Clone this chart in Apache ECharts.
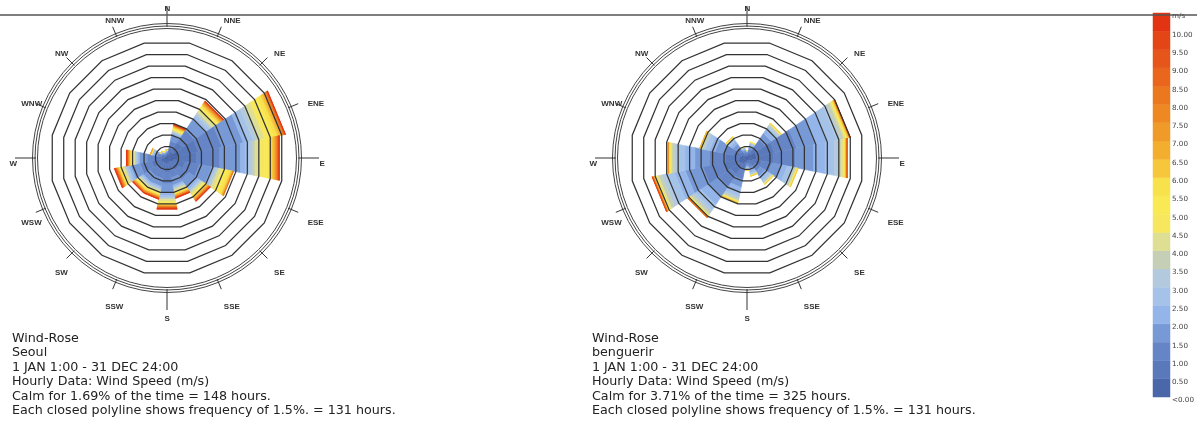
<!DOCTYPE html>
<html><head><meta charset="utf-8">
<script src="https://cdn.jsdelivr.net/npm/echarts@6/dist/echarts.min.js"></script>
<style>html,body{margin:0;padding:0;background:#fff;}#c{width:1197px;height:427px;}</style>
</head><body><div id="c"></div>
<script>
// ---------- data ----------
const directions = ['N','NNE','NE','ENE','E','ESE','SE','SSE','S','SSW','SW','WSW','W','WNW','NW','NNW'];
const speedBinLabels = ['<0.00','0.50','1.00','1.50','2.00','2.50','3.00','3.50','4.00','4.50','5.00',
  '5.50','6.00','6.50','7.00','7.50','8.00','8.50','9.00','9.50','10.00','m/s'];
const binColors = ['#4a67a9','#5a79bb','#6585c6','#7799d5','#94b5ea','#a5c2e8','#b3cade','#c5cfb5',
  '#dedf93','#f7e75e','#f9ea55','#f8e24c','#f6c63b','#f3ae30','#f09b29','#ed8823','#eb771f',
  '#e9661c','#e65519','#e44516','#e23412'];
const ringLevels = [1.5, 3, 4.5, 6, 7.5, 9, 10.5, 12, 13.5, 15]; // % frequency per closed polyline
// frequency (%) per direction (rows N..NNW) per speed bin (columns 0-0.5 ... >10 m/s)
const seoulFreq = [
  [0.25,0.25,0.2,0.15,0.08,0.05,0.03,0.02,0.02,0.02,0.01,0.01,0.01,0,0,0,0,0,0,0,0],
  [0.5,0.8,0.95,0.85,0.17,0.13,0.08,0.07,0.15,0.1,0.1,0.1,0.08,0.07,0.06,0.05,0.04,0.04,0.03,0.02,0.01],
  [0.9,1.5,1.85,1.65,0.4,0.35,0.2,0.2,0.4,0.25,0.2,0.2,0.15,0.12,0.1,0.08,0.07,0.06,0.05,0.04,0.03],
  [1.5,2.6,3.1,2.8,0.7,0.6,0.5,0.4,0.6,0.6,0.6,0.5,0.25,0.2,0.15,0.12,0.1,0.08,0.04,0.03,0.03],
  [1.4,2.5,3.0,2.7,0.65,0.55,0.4,0.3,0.7,0.55,0.5,0.45,0.25,0.18,0.14,0.1,0.1,0.08,0.06,0.05,0.04],
  [0.9,1.5,1.85,1.65,0.3,0.2,0.2,0.2,0.4,0.4,0.4,0.35,0.15,0.1,0.05,0.03,0.02,0,0,0,0],
  [0.7,1.2,1.45,1.25,0.3,0.25,0.15,0.1,0.25,0.17,0.15,0.13,0.12,0.1,0.08,0.07,0.06,0.05,0.05,0.04,0.03],
  [0.55,0.95,1.1,1.0,0.2,0.15,0.15,0.1,0.25,0.13,0.12,0.1,0.1,0.08,0.07,0.06,0.05,0.05,0.04,0.03,0.02],
  [0.7,1.2,1.45,1.25,0.3,0.25,0.15,0.1,0.25,0.17,0.15,0.13,0.1,0.08,0.07,0.06,0.06,0.06,0.06,0.05,0.06],
  [0.65,0.95,1.1,1.0,0.2,0.15,0.15,0.1,0.25,0.13,0.12,0.1,0.1,0.08,0.07,0.06,0.05,0.05,0.04,0.03,0.02],
  [0.65,0.95,1.1,1.0,0.2,0.15,0.15,0.1,0.25,0.13,0.12,0.1,0.1,0.08,0.07,0.06,0.05,0.04,0.04,0.03,0.03],
  [0.8,1.25,1.5,1.25,0.3,0.25,0.15,0.1,0.25,0.17,0.15,0.13,0.1,0.08,0.07,0.07,0.06,0.06,0.06,0.05,0.05],
  [0.55,0.95,1.1,1.0,0.2,0.15,0.15,0.1,0.25,0.13,0.12,0.1,0.1,0.08,0.07,0.06,0.05,0.05,0.04,0.03,0.02],
  [0.3,0.45,0.5,0.4,0.15,0.1,0.07,0.05,0.06,0.04,0.03,0.02,0.01,0.01,0.01,0,0,0,0,0,0],
  [0.25,0.25,0.2,0.15,0.08,0.05,0.03,0.02,0.02,0.02,0.01,0.01,0.01,0,0,0,0,0,0,0,0],
  [0.2,0.2,0.16,0.12,0.07,0.05,0.03,0.02,0.02,0.01,0.01,0.01,0,0,0,0,0,0,0,0,0]
];
const benguerirFreq = [
  [0.2,0.25,0.2,0.15,0.08,0.05,0.03,0.02,0.01,0.01,0,0,0,0,0,0,0,0,0,0,0],
  [0.3,0.45,0.45,0.35,0.22,0.15,0.07,0.05,0.03,0.02,0.01,0,0,0,0,0,0,0,0,0,0],
  [0.6,1.0,1.2,1.0,0.6,0.45,0.2,0.15,0.08,0.05,0.03,0.02,0.02,0,0,0,0,0,0,0,0],
  [1.2,2.4,2.9,2.5,1.5,1.3,0.5,0.4,0.2,0.15,0.1,0.05,0.1,0.06,0.05,0.04,0.02,0.01,0.01,0.01,0],
  [1.2,2.3,2.8,2.4,1.5,1.2,0.5,0.4,0.25,0.15,0.1,0.05,0.08,0.06,0.04,0.03,0.02,0.01,0.01,0,0],
  [0.7,1.2,1.4,1.2,0.8,0.6,0.3,0.2,0.12,0.08,0.05,0.03,0.02,0,0,0,0,0,0,0,0],
  [0.45,0.75,0.85,0.75,0.45,0.35,0.18,0.12,0.08,0.05,0.04,0.02,0.01,0,0,0,0,0,0,0,0],
  [0.3,0.45,0.5,0.4,0.25,0.2,0.1,0.07,0.05,0.04,0.02,0.01,0.01,0,0,0,0,0,0,0,0],
  [0.25,0.3,0.3,0.25,0.15,0.12,0.07,0.05,0.04,0.03,0.02,0.01,0.01,0,0,0,0,0,0,0,0],
  [0.6,1.0,1.2,1.05,0.7,0.55,0.25,0.2,0.12,0.08,0.06,0.04,0.03,0.02,0,0,0,0,0,0,0],
  [0.9,1.6,1.9,1.7,1.1,0.85,0.35,0.3,0.15,0.1,0.07,0.05,0.04,0.03,0.02,0.02,0.01,0.01,0,0,0],
  [1.1,2.1,2.6,2.3,1.4,1.2,0.5,0.4,0.2,0.15,0.1,0.07,0.06,0.05,0.04,0.04,0.03,0.03,0.02,0.01,0],
  [1.0,1.8,2.1,1.9,1.3,1.0,0.4,0.3,0.18,0.12,0.08,0.05,0.03,0.02,0.01,0.01,0,0,0,0,0],
  [0.7,1.1,1.3,1.1,0.75,0.55,0.25,0.18,0.1,0.07,0.05,0.03,0.01,0.01,0,0,0,0,0,0,0],
  [0.4,0.6,0.65,0.55,0.4,0.3,0.14,0.1,0.06,0.04,0.03,0.02,0.01,0,0,0,0,0,0,0,0],
  [0.22,0.3,0.3,0.25,0.15,0.12,0.06,0.04,0.03,0.02,0.01,0,0,0,0,0,0,0,0,0,0]
];
const seoulText = ['Wind-Rose','Seoul','1 JAN 1:00 - 31 DEC 24:00','Hourly Data: Wind Speed (m/s)',
  'Calm for 1.69% of the time = 148 hours.','Each closed polyline shows frequency of 1.5%. = 131 hours.'];
const benguerirText = ['Wind-Rose','benguerir','1 JAN 1:00 - 31 DEC 24:00','Hourly Data: Wind Speed (m/s)',
  'Calm for 3.71% of the time = 325 hours.','Each closed polyline shows frequency of 1.5%. = 131 hours.'];

// ---------- layout constants ----------
const PX_PER_PCT = 7.8;
const OUTER_PX = 134.5;
const RMAX = OUTER_PX / PX_PER_PCT;
const FRAME_R = [129.5, 132, 134.5];
const px = v => v / PX_PER_PCT;
const SECTOR = 360 / directions.length;

function buildBars(freq) {
  const out = [];
  freq.forEach((row, d) => {
    let acc = 0;
    row.forEach((v, b) => { if (v > 0) out.push([d, acc, acc + v, b]); acc += v; });
  });
  return out;
}
function renderBar(params, api) {
  const d = api.value(0), r0 = api.value(1), r1 = api.value(2), b = api.value(3);
  const a0 = d * SECTOR - SECTOR / 2, a1 = d * SECTOR + SECTOR / 2;
  const pts = [api.coord([r0, a0]), api.coord([r1, a0]), api.coord([r1, a1]), api.coord([r0, a1])];
  return { type: 'polygon', shape: { points: pts },
    style: { fill: binColors[b], stroke: binColors[b], lineWidth: 0.6 } };
}
function renderRing(params, api) {
  const r = api.value(0); const pts = [];
  for (let k = 0; k < directions.length; k++) pts.push(api.coord([r, SECTOR / 2 + SECTOR * k]));
  return { type: 'polygon', shape: { points: pts },
    style: { fill: null, stroke: '#333', lineWidth: 1.25 } };
}
function renderFrame(params, api) {
  const i = api.value(0); const a = i * SECTOR; const card = i % 4 === 0;
  const children = [];
  const p0 = api.coord([px(131), a]), p1 = api.coord([px(card ? 152 : 142), a]);
  children.push({ type: 'line', shape: { x1: p0[0], y1: p0[1], x2: p1[0], y2: p1[1] },
    style: { stroke: '#333', lineWidth: 1 } });
  const pl = api.coord([px(155), a]);
  children.push({ type: 'text', x: pl[0] - 2.5, y: pl[1] + 1.5,
    style: { text: directions[i], font: 'bold 8px "Liberation Sans", Arial, sans-serif',
      fill: '#333', align: 'left', verticalAlign: 'top' } });
  if (i === 0) {
    const c = api.coord([0, 0]);
    FRAME_R.forEach(r => children.push({ type: 'circle', shape: { cx: c[0], cy: c[1], r: r },
      style: { fill: null, stroke: '#444', lineWidth: 1 } }));
  }
  return { type: 'group', children };
}
function renderLegend(params, api) {
  const i = api.value(0);
  const p0 = api.coord([0, i]), p1 = api.coord([1, i + 1]);
  return { type: 'rect', shape: { x: p0[0], y: p1[1], width: p1[0] - p0[0], height: p0[1] - p1[1] },
    style: { fill: binColors[i], stroke: binColors[i], lineWidth: 0.5 } };
}

const roses = [seoulFreq, benguerirFreq];
const centers = [[167, 158], [747, 158]];
const series = [];
roses.forEach((freq, idx) => {
  series.push({ type: 'custom', coordinateSystem: 'polar', polarIndex: idx, z: 2,
    renderItem: renderBar, data: buildBars(freq), silent: true });
  series.push({ type: 'custom', coordinateSystem: 'polar', polarIndex: idx, z: 3,
    renderItem: renderRing, data: ringLevels.map(v => [v, 0]), silent: true });
  series.push({ type: 'custom', coordinateSystem: 'polar', polarIndex: idx, z: 4,
    renderItem: renderFrame, data: directions.map((n, i) => [i, 0]), silent: true });
});
series.push({ type: 'custom', coordinateSystem: 'cartesian2d', xAxisIndex: 0, yAxisIndex: 0,
  renderItem: renderLegend, data: binColors.map((c, i) => [i, i]), silent: true, encode: { x: 0, y: 1 } });

const textBlock = (lines, left) => ({ type: 'text', left: left, top: 331,
  style: { text: lines.join('\n'), font: '12.7px "DejaVu Sans", Verdana, sans-serif', lineHeight: 14.5, fill: '#222' } });

const option = {
  animation: false,
  backgroundColor: '#fff',
  polar: centers.map(c => ({ center: c, radius: OUTER_PX })),
  angleAxis: centers.map((c, i) => ({ polarIndex: i, type: 'value', min: 0, max: 360,
    startAngle: 90, clockwise: true, show: false })),
  radiusAxis: centers.map((c, i) => ({ polarIndex: i, type: 'value', min: 0, max: RMAX, show: false })),
  grid: { left: 1153, top: 13, width: 19, height: 384 },
  xAxis: { type: 'value', min: 0, max: 1, show: false },
  yAxis: { type: 'value', min: 0, max: binColors.length, interval: 1, position: 'right',
    axisLine: { show: false }, axisTick: { show: false }, splitLine: { show: false },
    axisLabel: { show: true, showMinLabel: true, showMaxLabel: true, margin: 2, align: 'left',
      verticalAlign: 'top', fontSize: 7.2, color: '#444', fontFamily: '"DejaVu Sans", Verdana, sans-serif',
      formatter: v => speedBinLabels[Math.round(v)] } },
  graphic: [
    textBlock(seoulText, 12),
    textBlock(benguerirText, 592),
    { type: 'line', z: 100, shape: { x1: 0, y1: 15, x2: 1197, y2: 15 },
      style: { stroke: '#555', lineWidth: 1.5 } }
  ],
  series: series
};
const chart = echarts.init(document.getElementById('c'), null, { renderer: 'canvas' });
chart.setOption(option);
</script>
</body></html>
